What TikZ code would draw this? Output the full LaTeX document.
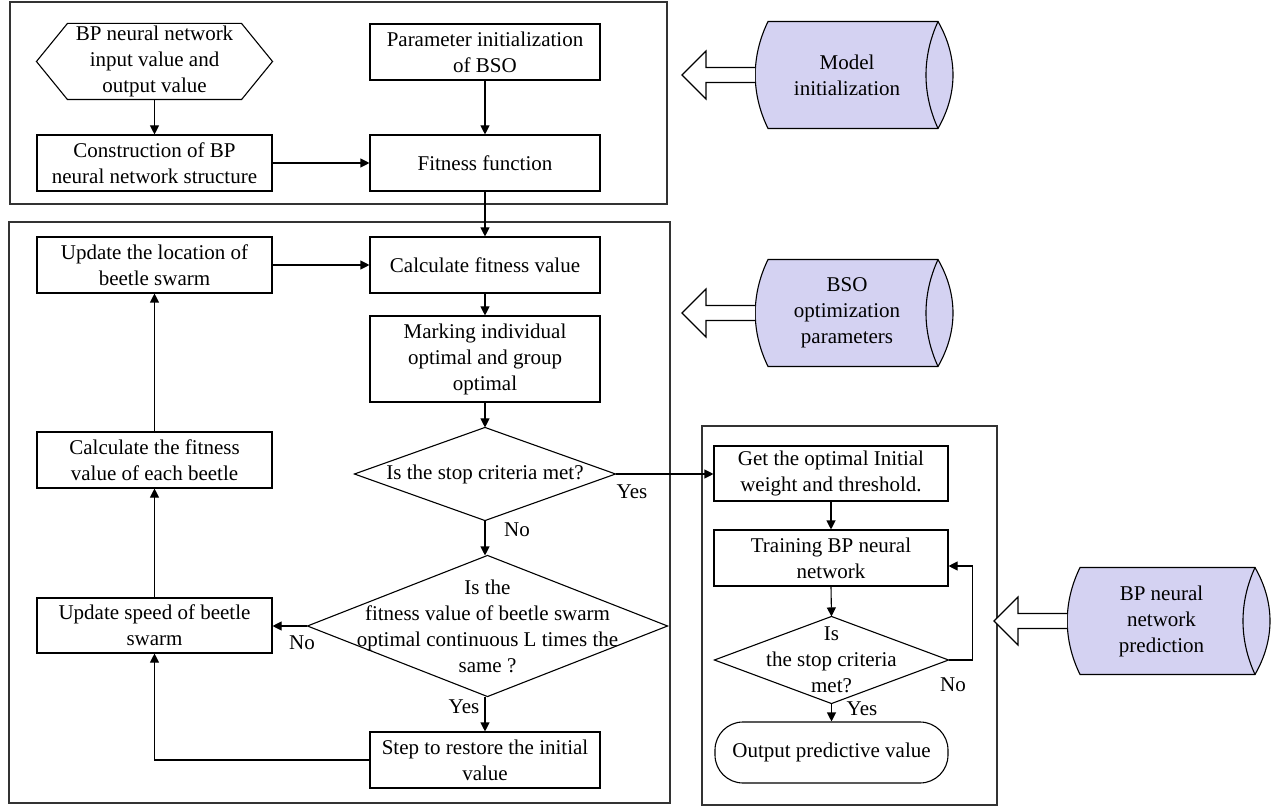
\documentclass[tikz,border=0pt]{standalone}
\usepackage{fontspec}
\setmainfont{Liberation Serif}
\usetikzlibrary{arrows.meta}
\definecolor{cylfill}{RGB}{212,210,242}
\begin{document}
\begin{tikzpicture}[x=1pt,y=-1pt,
  font=\fontsize{21}{26}\selectfont,
  line width=1.1pt,
  box/.style={draw, line width=1.1pt, minimum height=56pt, inner sep=0pt, align=center},
  lbox/.style={box, minimum width=235pt},
  mbox/.style={box, minimum width=230pt},
  rbox/.style={box, minimum width=234pt, minimum height=55pt},
  plain/.style={inner sep=0pt, align=center},
  frame/.style={draw=black!80, line width=1.1pt},
  arr/.style={-{Triangle[length=9pt,width=9pt]}},
  lbl/.style={inner sep=0pt},
  cyl/.style={draw, fill=cylfill, line width=1.1pt},
  barrow/.style={draw, fill=white, line width=1.1pt}
]
\useasboundingbox (0,0) rectangle (1278,810);

% frames
\draw[frame] (10,2) rectangle (667,204);
\draw[frame] (9,222) rectangle (670,803);
\draw[frame] (702,426) rectangle (997,805);

% top section
\node[plain, minimum width=235pt, minimum height=75pt] (hex) at (154.5,61.5) {BP neural network\\input value and\\output value};
\draw (hex.west) -- ([xshift=31pt]hex.north west) -- ([xshift=-31pt]hex.north east) -- (hex.east) -- ([xshift=-31pt]hex.south east) -- ([xshift=31pt]hex.south west) -- cycle;
\node[lbox] (constr) at (154.5,163) {Construction of BP\\neural network structure};
\node[mbox] (param) at (485,52) {Parameter initialization\\of BSO};
\node[mbox] (fitfun) at (485,163) {Fitness function};

% middle section
\node[mbox] (calc) at (485,265) {Calculate fitness value};
\node[lbox] (updloc) at (154.5,265) {Update the location of\\beetle swarm};
\node[mbox, minimum height=86pt] (mark) at (485,359) {Marking individual\\optimal and group\\optimal};
\node[plain, minimum width=260pt, minimum height=92pt] (d1) at (485,474) {Is the stop criteria met?};
\draw (d1.north) -- (d1.east) -- (d1.south) -- (d1.west) -- cycle;
\node[plain, minimum width=359pt, minimum height=140pt] (d2) at (487.5,626) {Is the\\fitness value of beetle swarm\\optimal continuous L times the\\same ?};
\draw (d2.north) -- (d2.east) -- (d2.south) -- (d2.west) -- cycle;
\node[mbox] (step) at (485,760) {Step to restore the initial\\value};
\node[lbox, minimum height=55pt] (updspeed) at (154.5,625.5) {Update speed of beetle\\swarm};
\node[lbox] (calceach) at (154.5,460) {Calculate the fitness\\value of each beetle};

% right section
\node[rbox] (getopt) at (831,473.5) {Get the optimal Initial\\weight and threshold.};
\node[rbox, minimum height=56pt] (train) at (831,558) {Training BP neural\\network};
\node[plain, minimum width=233pt, minimum height=86pt] (d3) at (831.5,660) {Is\\the stop criteria\\met?};
\draw (d3.north) -- (d3.east) -- (d3.south) -- (d3.west) -- cycle;
\node[draw, rounded corners=28pt, minimum width=233pt, minimum height=61pt, inner sep=0pt] (out) at (831.5,752.5) {Output predictive value};

% connectors
\draw[arr] (hex.south) -- (constr.north);
\draw[arr] (constr.east) -- (fitfun.west);
\draw[arr] (param.south) -- (fitfun.north);
\draw[arr] (fitfun.south) -- (calc.north);
\draw[arr] (updloc.east) -- (calc.west);
\draw[arr] (calc.south) -- (mark.north);
\draw[arr] (mark.south) -- (d1.north);
\draw[arr] (d1.south) -- (d2.north -| d1.south);
\draw[arr] (d1.east) -- (getopt.west |- d1.east);
\draw[arr] (d2.west) -- (updspeed.east |- d2.west);
\draw[arr] (d2.south -| step.north) -- (step.north);
\draw[arr] (step.west) -| (updspeed.south);
\draw[arr] (updspeed.north) -- (calceach.south);
\draw[arr] (calceach.north) -- (updloc.south);
\draw[arr] (getopt.south) -- (train.north);
\draw[arr] (train.south) -- (d3.north);
\draw[arr] (d3.east) -- ++(24,0) |- ([yshift=-8pt]train.east);
\draw[arr] (d3.south) -- (out.north);

% labels
\node[lbl] at (632,492) {Yes};
\node[lbl] at (517,530) {No};
\node[lbl] at (302,643) {No};
\node[lbl] at (464,707) {Yes};
\node[lbl] at (953,685) {No};
\node[lbl] at (862,709) {Yes};

% cylinders and block arrows
\foreach \cy/\x/\w/\name/\txt in {75/768/170/c1/{Model\\initialization},313/768/170/c2/{BSO\\optimization\\parameters},621/1080/175/c3/{BP neural\\network\\prediction}} {
  \pgfmathsetmacro{\ya}{\cy-53.5}
  \pgfmathsetmacro{\yb}{\cy+53.5}
  \pgfmathsetmacro{\xr}{\x+\w}
  \draw[cyl] (\x,\ya) -- (\xr,\ya) .. controls (\xr+20,\ya+35) and (\xr+20,\yb-35) .. (\xr,\yb)
     -- (\x,\yb) .. controls (\x-17,\yb-35) and (\x-17,\ya+35) .. (\x,\ya) -- cycle;
  \draw (\xr,\ya) .. controls (\xr-16,\ya+35) and (\xr-16,\yb-35) .. (\xr,\yb);
  \node[plain] (\name) at (\x+\w/2-6,\cy) {\txt};
  \draw[barrow] (\x-13,\cy-7.5) -- (\x-62,\cy-7.5) -- (\x-62,\cy-24) -- (\x-86,\cy) -- (\x-62,\cy+24) -- (\x-62,\cy+7.5) -- (\x-13,\cy+7.5);
}
\end{tikzpicture}
\end{document}
